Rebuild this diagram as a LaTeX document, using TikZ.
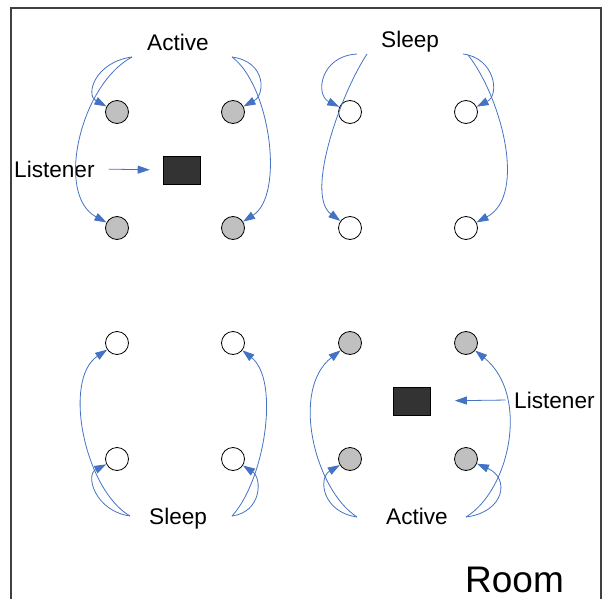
\documentclass[tikz,border=0pt]{standalone}
\usepackage{fontspec}
\setmainfont{Liberation Sans}
\usetikzlibrary{arrows.meta}
\definecolor{arrowblue}{HTML}{4472C4}
\definecolor{spkgray}{HTML}{C0C0C0}
\definecolor{lisfill}{HTML}{333333}
\tikzset{
  spkon/.style={circle, draw=black, line width=0.8pt, fill=spkgray, minimum size=23pt, inner sep=0pt},
  spkoff/.style={circle, draw=black, line width=0.8pt, fill=white, minimum size=23pt, inner sep=0pt},
  lisbox/.style={rectangle, draw=black, line width=0.6pt, fill=lisfill, minimum width=37pt, minimum height=28pt, inner sep=0pt},
  lbl/.style={anchor=base west, inner sep=0pt, font=\fontsize{22.6}{26}\selectfont},
  conn/.style={draw=arrowblue, line width=0.8pt, -{Triangle[length=12pt,width=8pt]}},
  wall/.style={draw=black!75, line width=1.2pt}
}
\begin{document}
\begin{tikzpicture}[x=1pt,y=1pt]
\useasboundingbox (0,0) rectangle (610,-599);
% room walls
\draw[wall] (11,-599) -- (11,-8) -- (601,-8) -- (601,-599);
% speakers
\node[spkon] (tl1) at (117,-112) {};
\node[spkon] (tl2) at (233,-112) {};
\node[spkon] (tl3) at (117,-228) {};
\node[spkon] (tl4) at (233,-228) {};
\node[spkoff] (tr1) at (350,-112) {};
\node[spkoff] (tr2) at (466,-112) {};
\node[spkoff] (tr3) at (350,-228) {};
\node[spkoff] (tr4) at (466,-228) {};
\node[spkoff] (bl1) at (117,-343) {};
\node[spkoff] (bl2) at (233,-343) {};
\node[spkoff] (bl3) at (117,-459) {};
\node[spkoff] (bl4) at (233,-459) {};
\node[spkon] (br1) at (350,-343) {};
\node[spkon] (br2) at (466,-343) {};
\node[spkon] (br3) at (350,-459) {};
\node[spkon] (br4) at (466,-459) {};
% listeners
\node[lisbox] (lis1) at (181.5,-170) {};
\node[lisbox] (lis2) at (412,-401) {};
% labels
\node[lbl] (actA) at (147,-51) {Active};
\node[lbl] (slpA) at (381,-48) {Sleep};
\node[lbl] (lstA) at (14,-177) {Listener};
\node[lbl] (slpB) at (149,-524) {Sleep};
\node[lbl] (actB) at (386,-524) {Active};
\node[lbl] (lstB) at (514,-408) {Listener};
\node[anchor=base west, inner sep=0pt, font=\fontsize{37}{44}\selectfont] (room) at (465,-592) {Room};
% connector start points
\coordinate (sA1) at (132,-57);
\coordinate (sA2) at (232,-57);
\coordinate (sB1) at (357,-54);
\coordinate (sB1b) at (367,-54);
\coordinate (sB2) at (463,-54);
\coordinate (sB2b) at (468,-55);
\coordinate (sC1) at (130,-516);
\coordinate (sC2) at (232,-516);
\coordinate (sD1) at (357,-517);
\coordinate (sD2) at (466,-517);
% top-left group (Active)
\draw[conn] (sA1) .. controls (95,-62) and (85,-95) .. (tl1);
\draw[conn] (sA1) .. controls (80,-85) and (55,-195) .. (tl3);
\draw[conn] (sA2) .. controls (267,-62) and (265,-95) .. (tl2);
\draw[conn] (sA2) .. controls (270,-85) and (285,-195) .. (tl4);
% top-right group (Sleep)
\draw[conn] (sB1) .. controls (320,-56) and (315,-95) .. (tr1);
\draw[conn] (sB1b) .. controls (340,-95) and (305,-195) .. (tr3);
\draw[conn] (sB2) .. controls (495,-58) and (500,-95) .. (tr2);
\draw[conn] (sB2b) .. controls (500,-95) and (528,-195) .. (tr4);
% bottom-left group (Sleep)
\draw[conn] (sC1) .. controls (95,-511) and (85,-475) .. (bl3);
\draw[conn] (sC1) .. controls (85,-490) and (62,-380) .. (bl1);
\draw[conn] (sC2) .. controls (262,-512) and (262,-478) .. (bl4);
\draw[conn] (sC2) .. controls (265,-480) and (280,-380) .. (bl2);
% bottom-right group (Active)
\draw[conn] (sD1) .. controls (322,-512) and (318,-478) .. (br3);
\draw[conn] (sD1) .. controls (315,-490) and (290,-390) .. (br1);
\draw[conn] (sD2) .. controls (505,-512) and (510,-478) .. (br4);
\draw[conn] (sD2) .. controls (510,-490) and (530,-395) .. (br2);
% listener arrows
\draw[conn, shorten <=14pt, shorten >=13pt] (lstA.east) -- (lis1.west);
\draw[conn, shorten <=8.5pt, shorten >=24pt] (lstB.west) -- (lis2.east);
\end{tikzpicture}
\end{document}
